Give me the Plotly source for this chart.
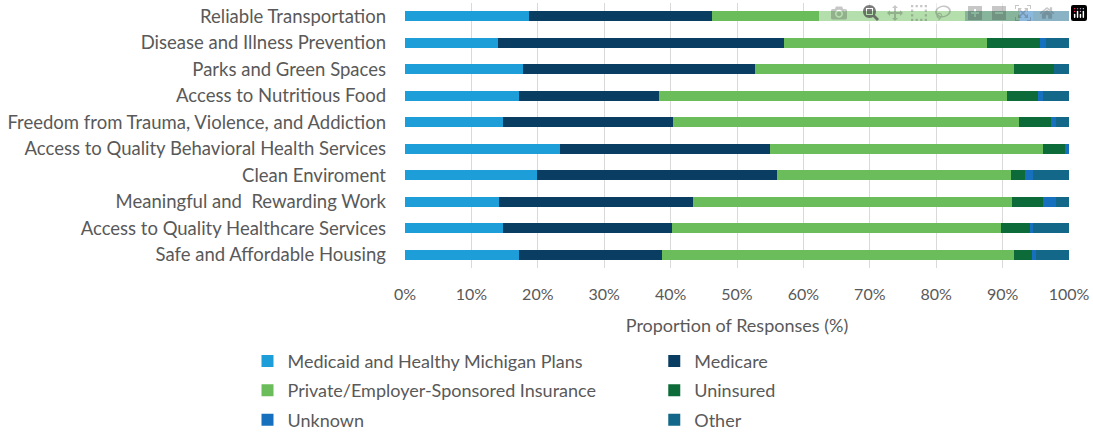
import plotly.graph_objects as go

categories = [
    "Reliable Transportation",
    "Disease and Illness Prevention",
    "Parks and Green Spaces",
    "Access to Nutritious Food",
    "Freedom from Trauma, Violence, and Addiction",
    "Access to Quality Behavioral Health Services",
    "Clean Enviroment",
    "Meaningful and  Rewarding Work",
    "Access to Quality Healthcare Services",
    "Safe and Affordable Housing",
]

medicaid = [18.7, 14.0, 17.7, 17.2, 14.7, 23.4, 19.9, 14.2, 14.7, 17.2]
medicare = [27.6, 43.1, 35.0, 21.1, 25.7, 31.5, 36.1, 29.1, 25.5, 21.5]
private = [38.0, 30.6, 39.0, 52.4, 52.0, 41.2, 35.2, 48.1, 49.5, 53.0]
uninsured = [8.3, 7.9, 6.1, 4.6, 4.9, 3.3, 2.2, 4.7, 4.4, 2.7]
unknown = [2.0, 1.0, 0.0, 0.8, 0.8, 0.6, 1.2, 2.0, 0.5, 0.7]
other = [5.4, 3.4, 2.2, 3.9, 1.9, 0.0, 5.4, 1.9, 5.4, 4.9]

x_tick_values = [0, 10, 20, 30, 40, 50, 60, 70, 80, 90, 100]
x_tick_labels = ["0%", "10%", "20%", "30%", "40%", "50%",
                 "60%", "70%", "80%", "90%", "100%"]

series = [
    ("Medicaid and Healthy Michigan Plans", medicaid, "#1E9ED8", "legend"),
    ("Medicare", medicare, "#0A3D62", "legend2"),
    ("Private/Employer-Sponsored Insurance", private, "#6ABD5A", "legend"),
    ("Uninsured", uninsured, "#0C6B39", "legend2"),
    ("Unknown", unknown, "#1670BD", "legend"),
    ("Other", other, "#136789", "legend2"),
]

FONT = "Lato"
GREY = "#595959"
FS = 18

fig = go.Figure()
for name, vals, color, lg in series:
    fig.add_trace(go.Bar(
        y=categories, x=vals, name=name, orientation="h",
        marker=dict(color=color, line=dict(width=0)),
        legend=lg, legendgroup=name,
    ))

legend_common = dict(
    orientation="v", xanchor="left", yanchor="top",
    font=dict(family=FONT, size=FS, color=GREY),
    bgcolor="rgba(0,0,0,0)", tracegroupgap=3, itemwidth=30,
)

fig.update_layout(
    width=1093, height=442,
    margin=dict(l=405, r=22, t=3, b=171),
    barmode="stack", bargap=0.62,
    plot_bgcolor="white", paper_bgcolor="white",
    font=dict(family=FONT, size=FS, color=GREY),
    legend=dict(x=-0.2372, y=-0.282, **legend_common),
    legend2=dict(x=0.3754, y=-0.282, **legend_common),
    xaxis=dict(
        range=[0, 100], tickmode="array",
        tickvals=x_tick_values, ticktext=x_tick_labels,
        showgrid=True, gridcolor="#D9D9D9", gridwidth=1,
        zeroline=False, showline=False,
        tickfont=dict(family=FONT, size=16, color=GREY),
        ticklabelstandoff=15, ticklabeloverflow="allow",
        title=dict(text="Proportion of Responses (%)", standoff=17,
                   font=dict(family=FONT, size=FS, color=GREY)),
    ),
    yaxis=dict(
        categoryorder="array", categoryarray=categories[::-1],
        range=[-0.5, 9.5],
        showgrid=False, zeroline=False, showline=False,
        tickfont=dict(family=FONT, size=18.5, color=GREY),
        ticklabelstandoff=18,
    ),
)

# remove the browser's default 8px body margin so the figure fills the window
fig.write_html(
    "out.html",
    post_script="document.body.style.margin='0';document.body.style.overflow='hidden';",
)
